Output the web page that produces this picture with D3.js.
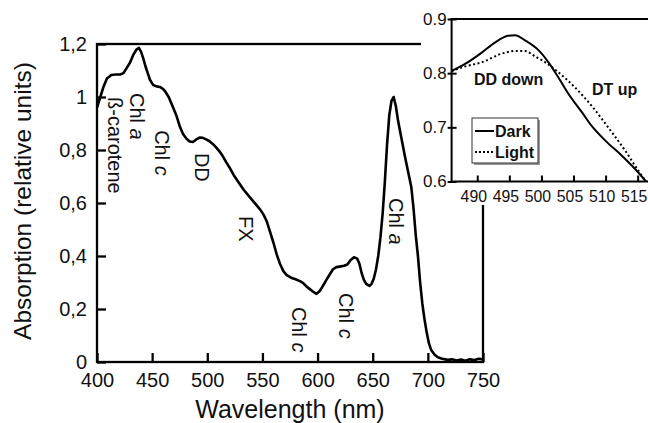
<!DOCTYPE html>
<html>
<head>
<meta charset="utf-8">
<script src="https://cdn.jsdelivr.net/npm/d3@7"></script>
<style>
  body { margin: 0; background: #fff; }
  svg { display: block; }
</style>
</head>
<body>
<div id="chart"></div>
<script>
// main spectrum
const wavelength = [400,403,406,409,413,417,421,424,427,430,433,436,438,440,442,444,446,448,451,454,457,460,462,465,469,472,475,478,481,484,487,490,493,496,499,502,505,508,511,514,517,520,524,528,533,537,541,545,548,551,554,557,560,563,566,569,572,576,580,584,587,590,593,596,599,602,605,608,611,614,617,620,624,627,630,633,636,638,640,642,644,647,649,651,653,655,657,659,661,663,665,667,669,671,673,676,679,682,685,687,689,691,693,695,697,699,701,703,706,709,713,718,722,726,730,734,738,742,746,750];
const absorbance = [0.96,1.0,1.04,1.07,1.083,1.085,1.085,1.09,1.11,1.13,1.16,1.18,1.185,1.17,1.145,1.115,1.09,1.065,1.045,1.04,1.038,1.03,1.02,1.0,0.96,0.93,0.89,0.86,0.843,0.832,0.83,0.84,0.847,0.846,0.84,0.833,0.823,0.81,0.795,0.777,0.755,0.735,0.705,0.68,0.65,0.63,0.61,0.59,0.575,0.556,0.53,0.49,0.45,0.405,0.37,0.343,0.328,0.318,0.312,0.305,0.298,0.285,0.275,0.265,0.257,0.268,0.288,0.31,0.33,0.35,0.358,0.36,0.363,0.368,0.385,0.395,0.39,0.37,0.335,0.31,0.295,0.287,0.295,0.315,0.35,0.4,0.47,0.56,0.68,0.82,0.93,0.985,1.0,0.965,0.91,0.845,0.78,0.72,0.66,0.58,0.48,0.4,0.3,0.22,0.16,0.11,0.07,0.045,0.028,0.018,0.012,0.008,0.01,0.006,0.009,0.005,0.01,0.007,0.012,0.01];

const xTicks = [400,450,500,550,600,650,700,750];
const yTicks = [0,0.2,0.4,0.6,0.8,1,1.2];
const yTickLabels = ["0","0,2","0,4","0,6","0,8","1","1,2"];

// peak labels, anchored in data units
const labelMain = ["Chl","ß-carotene","Chl","DD","FX","Chl","Chl","Chl"];
const labelItalic = ["a","","c","","","c","c","a"];
const labelNm = [430,410,452.7,489,529,577,619,664.5];
const labelAbs = [1.015,1.0,0.875,0.789,0.551,0.208,0.26,0.619];

// inset
const darkNm = [486,488.1,490.7,492.8,494.8,495.9,497.4,499.5,501.1,502.6,504.2,506.3,507.8,510,512.5,514.6,516.3];
const darkAbs = [0.804,0.817,0.838,0.857,0.869,0.870,0.861,0.843,0.820,0.793,0.762,0.728,0.703,0.675,0.648,0.623,0.6];
const lightNm = [486,488,490.7,493.8,495.9,497.4,499,500.6,502.6,505.2,507.8,510.4,513,515.1,516.3];
const lightAbs = [0.804,0.812,0.820,0.836,0.841,0.841,0.831,0.820,0.802,0.774,0.74,0.70,0.658,0.62,0.6];
const insetXTicks = [490,495,500,505,510,515];
const insetYTicks = [0.6,0.7,0.8,0.9];

const W = 648, H = 423;
const FONT = "'Liberation Sans', Arial, sans-serif";

const svg = d3.select("#chart").append("svg")
  .attr("width", W)
  .attr("height", H)
  .style("font-family", FONT);

const x = d3.scaleLinear().domain([400, 750]).range([97, 483]);
const y = d3.scaleLinear().domain([0, 1.2]).range([362, 44]);

// frame
svg.append("rect")
  .attr("x", x(400)).attr("y", y(1.2))
  .attr("width", x(750) - x(400)).attr("height", y(0) - y(1.2))
  .attr("fill", "none").attr("stroke", "#000").attr("stroke-width", 2.3);

const xAxis = svg.append("g")
  .attr("transform", `translate(0,${y(0)})`)
  .call(d3.axisBottom(x).tickValues(xTicks).tickFormat(d3.format("d"))
    .tickSizeInner(-9).tickSizeOuter(0).tickPadding(11));
xAxis.select(".domain").remove();
xAxis.selectAll("line").attr("stroke-width", 2.3);
xAxis.selectAll("text").attr("font-size", 20).attr("font-family", FONT).attr("fill", "#111");

const yAxis = svg.append("g")
  .attr("transform", `translate(${x(400)},0)`)
  .call(d3.axisLeft(y).tickValues(yTicks).tickFormat((d, i) => yTickLabels[i])
    .tickSizeInner(-9).tickSizeOuter(0).tickPadding(10));
yAxis.select(".domain").remove();
yAxis.selectAll("line").attr("stroke-width", 2.3);
yAxis.selectAll("text").attr("font-size", 20).attr("font-family", FONT).attr("fill", "#111");

svg.append("text")
  .attr("x", (x(400) + x(750)) / 2).attr("y", 418)
  .attr("text-anchor", "middle")
  .attr("font-size", 25).attr("fill", "#111")
  .text("Wavelength (nm)");

svg.append("text")
  .attr("transform", `translate(31,${(y(0) + y(1.2)) / 2 - 2}) rotate(-90)`)
  .attr("text-anchor", "middle")
  .attr("font-size", 24.5).attr("fill", "#111")
  .text("Absorption (relative units)");

const line = d3.line()
  .x((d, i) => x(wavelength[i]))
  .y(d => y(d));

svg.append("path")
  .datum(absorbance)
  .attr("d", line)
  .attr("fill", "none").attr("stroke", "#000")
  .attr("stroke-width", 2.6).attr("stroke-linejoin", "round");

labelMain.forEach((t, i) => {
  const txt = svg.append("text")
    .attr("transform", `translate(${x(labelNm[i])},${y(labelAbs[i])}) rotate(90)`)
    .attr("font-size", 20).attr("fill", "#111")
    .text(t);
  if (labelItalic[i]) {
    txt.append("tspan").text(" ");
    txt.append("tspan").attr("font-style", "italic").text(labelItalic[i]);
  }
});

// inset
const ix = d3.scaleLinear().domain([486, 517]).range([451.6, 650.5]);
const iy = d3.scaleLinear().domain([0.6, 0.9]).range([181.5, 19]);

svg.append("rect")
  .attr("x", 421).attr("y", 0)
  .attr("width", W - 421).attr("height", 205)
  .attr("fill", "#fff");

svg.append("rect")
  .attr("x", ix(486)).attr("y", iy(0.9))
  .attr("width", ix(517) - ix(486)).attr("height", iy(0.6) - iy(0.9))
  .attr("fill", "none").attr("stroke", "#000").attr("stroke-width", 2);

const ixAxis = svg.append("g")
  .attr("transform", `translate(0,${iy(0.6)})`)
  .call(d3.axisBottom(ix).tickValues(insetXTicks).tickFormat(d3.format("d"))
    .tickSizeInner(-6).tickSizeOuter(0).tickPadding(9));
ixAxis.select(".domain").remove();
ixAxis.selectAll("line").attr("stroke-width", 2);
ixAxis.selectAll("text").attr("font-size", 15.8).attr("dx", -4)
  .attr("font-family", FONT).attr("fill", "#111");

const iyAxis = svg.append("g")
  .attr("transform", `translate(${ix(486)},0)`)
  .call(d3.axisLeft(iy).tickValues(insetYTicks).tickFormat(d3.format(".1f"))
    .tickSizeInner(4).tickSizeOuter(0).tickPadding(1));
iyAxis.select(".domain").remove();
iyAxis.selectAll("line").attr("x1", 5).attr("stroke-width", 2);
iyAxis.selectAll("text").attr("font-size", 17).attr("font-family", FONT).attr("fill", "#111");

const darkLine = d3.line().x((d, i) => ix(darkNm[i])).y(d => iy(d)).curve(d3.curveMonotoneX);
const lightLine = d3.line().x((d, i) => ix(lightNm[i])).y(d => iy(d)).curve(d3.curveMonotoneX);

svg.append("path").datum(darkAbs).attr("d", darkLine)
  .attr("fill", "none").attr("stroke", "#000").attr("stroke-width", 2);
svg.append("path").datum(lightAbs).attr("d", lightLine)
  .attr("fill", "none").attr("stroke", "#000").attr("stroke-width", 2)
  .attr("stroke-dasharray", "2,2.5");

svg.append("text").attr("x", 474).attr("y", 85)
  .attr("font-size", 16).attr("font-weight", "bold").attr("fill", "#111")
  .text("DD down");
svg.append("text").attr("x", 592).attr("y", 95)
  .attr("font-size", 16).attr("font-weight", "bold").attr("fill", "#111")
  .text("DT up");

// legend
const lg = svg.append("g").attr("transform", "translate(472,118)");
lg.append("rect").attr("x", 2).attr("y", 2).attr("width", 66).attr("height", 45).attr("fill", "#999");
lg.append("rect").attr("width", 66).attr("height", 45)
  .attr("fill", "#fff").attr("stroke", "#333").attr("stroke-width", 1);
lg.append("line").attr("x1", 3).attr("x2", 22).attr("y1", 13).attr("y2", 13)
  .attr("stroke", "#000").attr("stroke-width", 2);
lg.append("line").attr("x1", 3).attr("x2", 22).attr("y1", 34).attr("y2", 34)
  .attr("stroke", "#000").attr("stroke-width", 2).attr("stroke-dasharray", "2,2");
lg.append("text").attr("x", 23).attr("y", 19)
  .attr("font-size", 16).attr("font-weight", "bold").attr("fill", "#111").text("Dark");
lg.append("text").attr("x", 23).attr("y", 40)
  .attr("font-size", 16).attr("font-weight", "bold").attr("fill", "#111").text("Light");
</script>
</body>
</html>
